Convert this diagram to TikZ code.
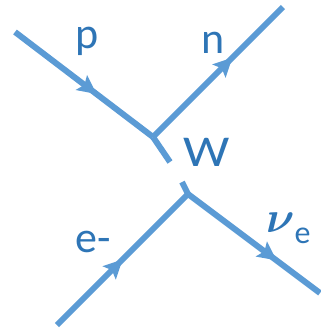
\RequirePackage{fix-cm}
\documentclass[tikz,border=0pt]{standalone}
\usepackage{bm}
\usepackage{fontspec}
\setmainfont{Carlito}
\usetikzlibrary{arrows.meta,decorations.markings}
\definecolor{lineblue}{HTML}{5B9BD5}
\definecolor{textblue}{HTML}{2E75B6}
\tikzset{
  fermion/.style={draw=lineblue, line width=6pt, postaction={decorate},
    decoration={markings, mark=at position #1 with {\arrow[lineblue]{Stealth[length=19pt,width=19pt,inset=4pt,line width=0pt]}}}},
  stub/.style={draw=lineblue, line width=6pt},
  lbl/.style={text=textblue, anchor=base, inner sep=0pt, font=\fontsize{44}{52}\selectfont}
}
\begin{document}
\begin{tikzpicture}[x=1pt,y=-1pt]
\useasboundingbox (0,0) rectangle (321,330);
\coordinate (pin) at (15,32);
\coordinate (v1) at (153,137);
\coordinate (nout) at (283,7);
\coordinate (s1) at (170,162);
\coordinate (s2) at (182,182);
\coordinate (v2) at (188,194);
\coordinate (ein) at (57,325);
\coordinate (nuout) at (320,293);
\draw[fermion=0.59] (pin) -- (v1);
\draw[fermion=0.61] (v1) -- (nout);
\draw[stub] (v1) -- (s1);
\draw[stub] (s2) -- (v2);
\draw[fermion=0.50] (ein) -- (v2);
\draw[fermion=0.67] (v2) -- (nuout);
\node[lbl] (p) at (87,48) {p};
\node[lbl] (n) at (213,53) {n};
\node[lbl] (W) at (206.5,166) {\scalebox{1.18}[1]{W}};
\node[lbl] (el) at (93,252) {e-};
\node[lbl, anchor=base west] (nu) at (266,232) {$\bm{\nu}$\raisebox{-11pt}{\fontsize{32}{38}\selectfont e}};
\end{tikzpicture}
\end{document}
